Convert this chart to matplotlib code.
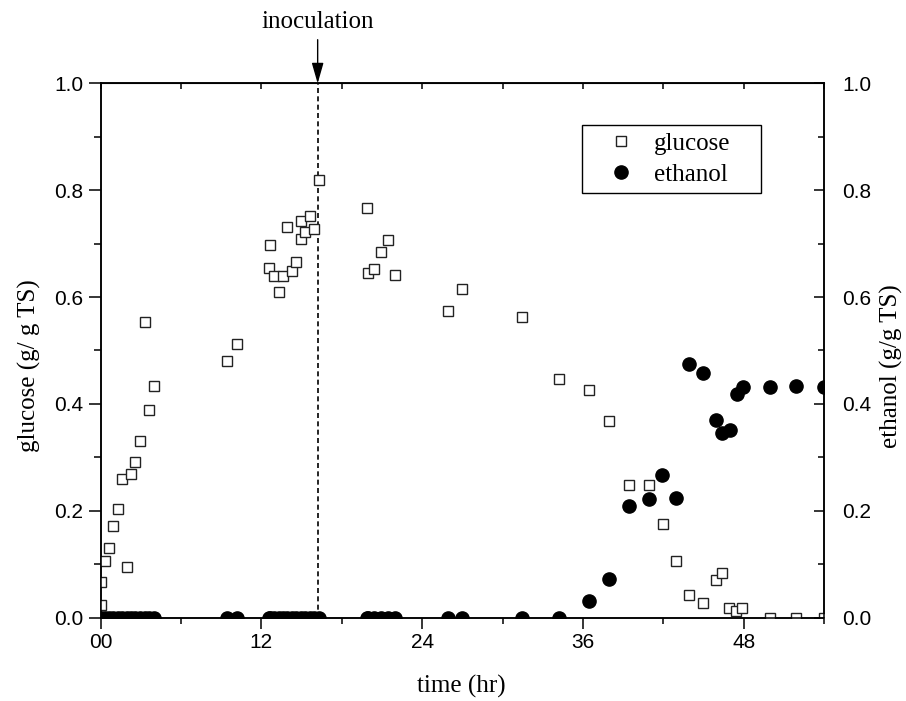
import matplotlib
matplotlib.use("Agg")
import matplotlib.pyplot as plt
from matplotlib.ticker import MultipleLocator, FixedLocator, FixedFormatter

# ===== data =====
glucose_t = [0.0, 0.05, 0.3, 0.62, 0.94, 1.27, 1.61, 1.96, 2.28, 2.6, 2.95, 3.3, 3.62, 3.95,
             9.46, 10.18, 12.59, 12.62, 12.91, 13.29, 13.61, 13.93, 14.28, 14.6, 14.95, 14.95,
             15.25, 15.6, 15.95, 16.29, 19.87, 19.94, 20.44, 20.94, 21.43, 21.95, 25.95, 26.94,
             31.44, 34.25, 36.44, 37.93, 39.44, 40.95, 41.95, 42.94, 43.93, 44.93, 45.95, 46.42,
             46.92, 47.41, 47.91, 49.95, 51.94, 54.0]
glucose_v = [0.024, 0.066, 0.105, 0.131, 0.171, 0.203, 0.260, 0.095, 0.269, 0.292, 0.330, 0.553,
             0.388, 0.434, 0.480, 0.513, 0.654, 0.698, 0.640, 0.610, 0.640, 0.731, 0.649, 0.665,
             0.743, 0.708, 0.722, 0.752, 0.727, 0.819, 0.767, 0.645, 0.653, 0.685, 0.707, 0.641,
             0.574, 0.615, 0.562, 0.447, 0.426, 0.368, 0.249, 0.249, 0.176, 0.105, 0.043, 0.027,
             0.070, 0.084, 0.018, 0.012, 0.018, 0.0, 0.0, 0.0]

ethanol_t = [0.0, 0.3, 0.62, 0.94, 1.27, 1.61, 1.96, 2.28, 2.6, 2.95, 3.3, 3.62, 3.95,
             9.46, 10.18, 12.59, 12.62, 12.91, 13.29, 13.61, 13.93, 14.28, 14.6, 14.95, 15.25,
             15.6, 15.95, 16.29, 19.87, 19.94, 20.44, 20.94, 21.43, 21.95, 25.95, 26.94, 31.44,
             34.25, 36.44, 37.93, 39.42, 40.96, 41.92, 42.94, 43.93, 44.93, 45.95, 46.42, 46.97,
             47.47, 47.96, 49.95, 51.94, 54.0]
ethanol_v = [0, 0, 0, 0, 0, 0, 0, 0, 0, 0, 0, 0, 0,
             0, 0, 0, 0, 0, 0, 0, 0, 0, 0, 0, 0,
             0, 0, 0, 0, 0, 0, 0, 0, 0, 0, 0, 0,
             0, 0.031, 0.073, 0.208, 0.221, 0.266, 0.224, 0.475, 0.458, 0.370, 0.345, 0.351,
             0.419, 0.432, 0.432, 0.434, 0.432]

inoculation_t = 16.2
x_ticks = [0, 12, 24, 36, 48]
x_labels = ["00", "12", "24", "36", "48"]

serif = "Liberation Serif"
sans = "Liberation Sans"

# ===== plot =====
fig = plt.figure(figsize=(9.06, 7.01), dpi=100)
ax = fig.add_axes([0.1111, 0.1191, 0.7984, 0.7618])
ax2 = ax.twinx()

ax.plot(glucose_t, glucose_v, linestyle="none", marker="s", markersize=7,
        markerfacecolor="white", markeredgecolor="#222222", markeredgewidth=1.0,
        label="glucose", zorder=3)
ax2.plot(ethanol_t, ethanol_v, linestyle="none", marker="o", markersize=9.5,
         color="black", label="ethanol", zorder=3)

ax.axvline(inoculation_t, color="black", linewidth=1.2, linestyle=(0, (3, 2)))
ax.annotate("inoculation", xy=(inoculation_t, 1.0), xycoords="data",
            xytext=(inoculation_t, 1.095), textcoords="data",
            ha="center", va="bottom", fontsize=18, family=serif,
            arrowprops=dict(arrowstyle="-|>,head_width=0.2,head_length=0.7",
                            color="black", lw=1.0, shrinkA=3, shrinkB=0),
            annotation_clip=False)

for a in (ax, ax2):
    a.set_xlim(0, 54)
    a.set_ylim(0, 1.0)
    for s in a.spines.values():
        s.set_linewidth(1.1)

ax.xaxis.set_major_locator(FixedLocator(x_ticks))
ax.xaxis.set_major_formatter(FixedFormatter(x_labels))
ax.xaxis.set_minor_locator(MultipleLocator(6))
ax.yaxis.set_major_locator(MultipleLocator(0.2))
ax.yaxis.set_minor_locator(MultipleLocator(0.1))
ax.yaxis.set_major_formatter(plt.FormatStrFormatter("%.1f"))
ax2.yaxis.set_major_locator(MultipleLocator(0.2))
ax2.yaxis.set_minor_locator(MultipleLocator(0.1))
ax2.yaxis.set_major_formatter(plt.FormatStrFormatter("%.1f"))

ax.tick_params(axis="x", which="major", direction="out", length=8, width=1.1,
               labelsize=15, top=False)
ax.tick_params(axis="x", which="minor", direction="out", length=4.5, width=1.1, top=False)
ax.tick_params(axis="y", which="major", direction="out", length=8.5, width=1.1,
               labelsize=15, right=False, pad=4)
ax.tick_params(axis="y", which="minor", direction="out", length=4.8, width=1.1, right=False)
ax2.tick_params(axis="y", which="major", direction="in", length=7, width=1.1,
                labelsize=15, pad=13)
ax2.tick_params(axis="y", which="minor", direction="in", length=4, width=1.1)

# top spine ticks pointing inward every 6 hr
top = ax.secondary_xaxis("top")
top.xaxis.set_major_locator(MultipleLocator(6))
top.tick_params(direction="in", length=4, width=1.1, labeltop=False)

for lab in ax.get_xticklabels() + ax.get_yticklabels() + ax2.get_yticklabels():
    lab.set_family(sans)

ax.set_xlabel("time (hr)", fontsize=18, family=serif)
ax.set_ylabel("glucose (g/ g TS)", fontsize=18, family=serif)
ax2.set_ylabel("ethanol (g/g TS)", fontsize=18, family=serif)
ax.xaxis.set_label_coords(0.498, -0.108)
ax.yaxis.set_label_coords(-0.083, 0.471)
ax2.yaxis.set_label_coords(1.077, 0.471)

h1, l1 = ax.get_legend_handles_labels()
h2, l2 = ax2.get_legend_handles_labels()
leg = ax2.legend(h1 + h2, l1 + l2, loc="upper left",
                 bbox_to_anchor=(0.666, 0.793, 0.2465, 0.129), mode="expand",
                 borderaxespad=0, prop={"family": serif, "size": 18},
                 handlelength=2.5, handletextpad=0.05, borderpad=0.3,
                 labelspacing=0.32, fancybox=False, framealpha=1)
leg.get_frame().set_edgecolor("black")
leg.get_frame().set_linewidth(1.0)

fig.savefig("out.png", dpi=100)
